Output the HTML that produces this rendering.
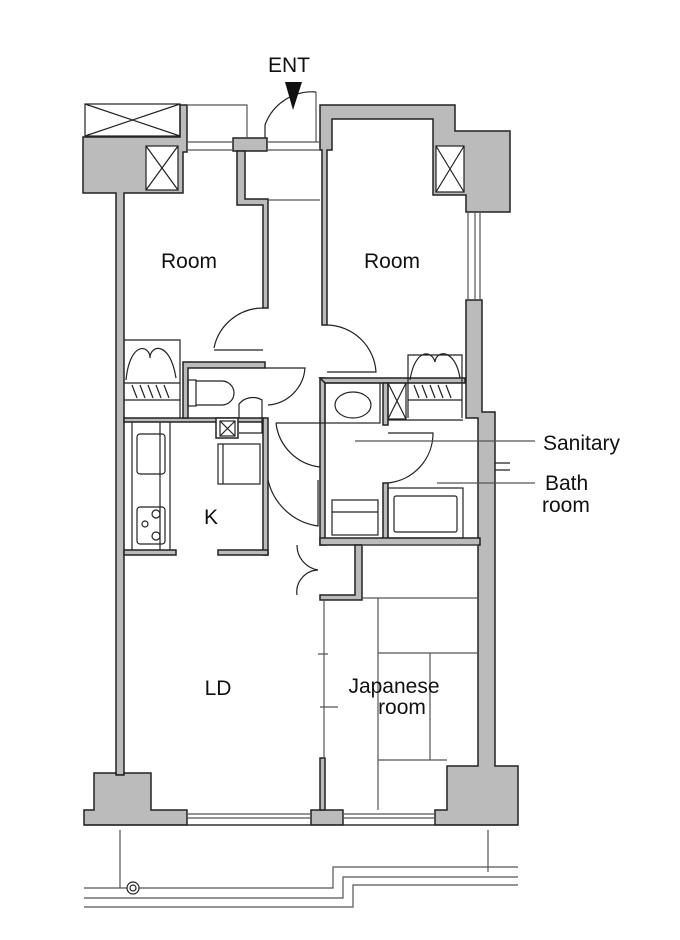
<!DOCTYPE html>
<html><head><meta charset="utf-8"><style>
html,body{margin:0;padding:0;background:#fff}
svg{display:block}
text{font-family:"Liberation Sans",sans-serif;fill:#111}
</style></head><body>
<svg width="680" height="940" viewBox="0 0 680 940" xmlns="http://www.w3.org/2000/svg">
<g stroke="#222" stroke-width="1.5" fill="#bbb">
<path d="M83 137 H180 V105 H187 V152 H183 V193 H124 V775 H116 V193 H83 Z"/>
<rect x="233" y="138" width="34" height="13"/>
<path d="M237 151 H245 V199 H268 V308 H263 V205 H237 Z"/>
<path d="M320 105 H455 V131 H510 V212 H466 V195 H433 V119 H332 V150 H327 V325 H322 V150 H320 Z"/>
<path d="M466 300 H482 V412 H495 V766 H518 V825 H435 V810 H447 V766 H478 V418 H466 Z"/>
<path d="M94 773 H116 V775 H124 V773 H151 V810 H187 V825 H84 V810 H94 Z"/>
<rect x="311" y="810" width="32" height="15"/>
<rect x="320" y="758" width="5" height="52"/>
<path d="M124 418 H263 V422 H124 Z"/>
<rect x="263" y="418" width="5" height="137"/>
<rect x="124" y="550" width="52" height="5"/>
<rect x="218" y="550" width="50" height="5"/>
<path d="M183 362 H265 V368 H188 V418 H183 Z"/>
<rect x="320" y="378" width="5" height="167"/>
<path d="M320 378 H465 V383 H325 Z"/>
<rect x="383" y="383" width="5" height="42"/>
<rect x="383" y="483" width="5" height="57"/>
<path d="M320 538 H480 V545 H320 Z"/>
<path d="M355 545 H362 V600 H320 V595 H355 Z"/>
<rect x="216" y="418" width="22" height="20" fill="#fff"/>
</g>
<g stroke="#222" stroke-width="1.2" fill="none">
<rect x="85" y="104" width="95" height="32"/>
<path d="M85 104 L180 136 M180 104 L85 136"/>
<rect x="146" y="146" width="32" height="44" fill="#fff"/>
<path d="M146 146 L178 190 M178 146 L146 190"/>
<rect x="436" y="146" width="28" height="46" fill="#fff"/>
<path d="M436 146 L464 192 M464 146 L436 192"/>
<rect x="388" y="383" width="18" height="36"/><path d="M388 383 L406 419 M406 383 L388 419"/>
<rect x="220" y="421" width="15" height="15"/><path d="M220 421 L235 436 M235 421 L220 436"/>
<path d="M187 105 H247 V138 M187 142 H233 M187 150 H233" stroke="#555"/>
<path d="M267 142 H320 M267 150 H320" stroke="#555"/>
<path d="M316 92 V142" stroke="#555"/>
<path d="M265 138 V125 A50 50 0 0 1 316 92" />
<path d="M268 200 H320" stroke="#555"/>
<path d="M468 212 V300 M475 212 V300 M480 212 V300" stroke="#555"/>
<path d="M214 348 A50 50 0 0 1 263 308 M214 350 H263"/>
<path d="M327 325 A50 50 0 0 1 376 372 H327"/>
<path d="M124 340 H180 V418 M124 400 H180 M124 383 H180"/>
<path d="M126 380 C130 340 150 345 150 358 C150 345 170 340 176 378"/>
<path d="M132 385 L137 398 M140 385 L145 398 M148 385 L153 398 M156 385 L161 398 M164 385 L169 398"/>
<path d="M408 418 V355 H462 V418 M408 400 H462"/>
<path d="M410 380 C415 348 432 350 435 362 C436 350 455 348 460 378"/>
<path d="M414 385 L419 398 M422 385 L427 398 M430 385 L435 398 M438 385 L443 398 M446 385 L451 398"/>
<rect x="188" y="380" width="8" height="26"/>
<path d="M196 381 H222 A11 11 0 0 1 222 405 H196"/>
<path d="M265 368 H305 A40 40 0 0 1 268 405"/>
<path d="M239 418 V404 A18 18 0 0 1 262 400 V433 H239"/>
<path d="M132 422 V550 M160 422 V550 M170 422 V550"/>
<rect x="137" y="434" width="28" height="40" rx="3"/>
<rect x="137" y="507" width="28" height="37" rx="3"/>
<circle cx="156" cy="514" r="4"/><circle cx="145" cy="524" r="3"/><circle cx="156" cy="536" r="4"/>
<rect x="218" y="444" width="42" height="40"/>
<path d="M223 444 V484"/>
<ellipse cx="353" cy="405" rx="18" ry="13"/>
<rect x="325" y="383" width="55" height="40"/>
<path d="M276 423 H325 M276 423 A50 50 0 0 0 320 467"/>
<path d="M268 480 A60 60 0 0 0 318 526 V480"/>
<path d="M388 433 H433 A50 50 0 0 1 388 483"/>
<path d="M388 420 H463"/>
<rect x="332" y="500" width="46" height="35"/><path d="M332 512 H378"/>
<rect x="388" y="488" width="75" height="50"/>
<rect x="394" y="496" width="63" height="36" rx="2"/>
<path d="M495 463 H510 M495 470 H510"/>
<path d="M297 545 A25 25 0 0 0 318 570 A22 22 0 0 0 297 595"/>
<path d="M362 545 H478 M362 598 H478 M378 598 V810 M378 653 H478 M430 653 V760 M378 760 H447" stroke="#555"/>
<path d="M324 600 V758" stroke="#555"/>
<path d="M320 707 H338 M318 654 H328" stroke="#555"/>
<path d="M187 814 H311 M187 818 H311 M187 825 H311 M343 814 H435 M343 818 H435 M343 825 H435" stroke="#555"/>
<path d="M84 825 H518"/>
<path d="M120 830 V888 M488 830 V872" stroke="#555"/>
<path d="M84 888 H333 V867 H518 M84 898 H343 V877 H518 M84 907 H353 V885 H518" stroke="#555"/>
<circle cx="133" cy="888" r="6" fill="#fff"/><circle cx="133" cy="888" r="3"/>
<path d="M355 441 H535 M437 483 H535" stroke="#555"/>
</g>
<path d="M285 82 H302 L293 110 Z" fill="#111"/>
<text x="289" y="72" font-size="21" text-anchor="middle">ENT</text>
<text x="189" y="268" font-size="21" text-anchor="middle">Room</text>
<text x="392" y="268" font-size="21" text-anchor="middle">Room</text>
<text x="211" y="524" font-size="21" text-anchor="middle">K</text>
<text x="218" y="695" font-size="21" text-anchor="middle">LD</text>
<text x="394" y="693" font-size="21" text-anchor="middle">Japanese</text>
<text x="402" y="714" font-size="21" text-anchor="middle">room</text>
<text x="543" y="450" font-size="21">Sanitary</text>
<text x="545" y="490" font-size="21">Bath</text>
<text x="542" y="512" font-size="21">room</text>
</svg>
</body></html>
